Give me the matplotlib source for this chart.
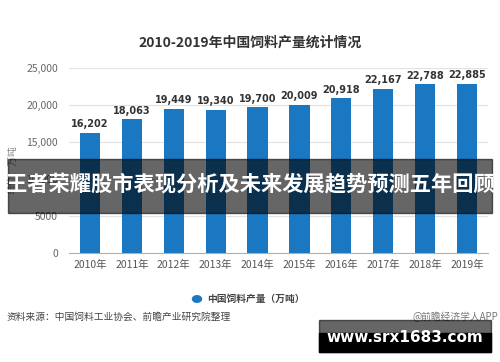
import numpy as np
import matplotlib.pyplot as plt
from matplotlib.patches import Rectangle, Circle

plt.rcParams['font.family'] = ['Noto Sans CJK SC', 'DejaVu Sans']

years = ['2010年', '2011年', '2012年', '2013年', '2014年',
         '2015年', '2016年', '2017年', '2018年', '2019年']
output = [16202, 18063, 19449, 19340, 19700, 20009, 20918, 22167, 22788, 22885]
yticks = [0, 5000, 10000, 15000, 20000, 25000]
ytick_labels = ['0', '5000', '10,000', '15,000', '20,000', '25,000']

W, H = 500, 362
fig = plt.figure(figsize=(W / 100, H / 100), dpi=100)
fig.patch.set_facecolor('white')

ax = fig.add_axes([69 / W, 1 - 253 / H, (488 - 69) / W, (253 - 68) / H])
x = np.arange(len(years))
ax.bar(x, output, width=0.48, color='#1a78c2', zorder=3)
for xi, v in zip(x, output):
    ax.text(xi, v + 500, f'{v:,}', ha='center', va='bottom', fontsize=7,
            fontweight='bold', color='#333333', family='DejaVu Sans')

ax.set_xlim(-0.5, len(years) - 0.5)
ax.set_ylim(0, 25000)
ax.set_yticks(yticks)
ax.set_yticklabels(ytick_labels, fontsize=7.5, color='#666666')
ax.set_xticks(x)
ax.set_xticklabels(years, fontsize=7.5, color='#555555')
ax.tick_params(axis='y', length=0, pad=8)
ax.tick_params(axis='x', length=0, pad=5)
ax.grid(axis='y', color='#e2e2e2', linewidth=0.8, zorder=0)
for s in ['top', 'right', 'left']:
    ax.spines[s].set_visible(False)
ax.spines['bottom'].set_color('#b0b0b0')
ax.set_facecolor('white')

fig.text(12 / W, 1 - 170 / H, '单位：万吨', rotation=90, fontsize=7,
         color='#888888', ha='center', va='center')

fig.text(250 / W, 1 - 43 / H, '2010-2019年中国饲料产量统计情况', fontsize=10,
         fontweight='bold', color='#333333', ha='center', va='center')

# legend
fig.patches.append(Circle((197 / W, 1 - 299 / H), 4.5 / W, color='#1a78c2',
                          transform=fig.transFigure, figure=fig))
fig.text(207 / W, 1 - 299 / H, '中国饲料产量（万吨）', fontsize=7,
         fontweight='bold', color='#444444', ha='left', va='center')

fig.text(7 / W, 1 - 317 / H, '资料来源：中国饲料工业协会、前瞻产业研究院整理',
         fontsize=7, color='#444444', ha='left', va='center')
fig.text(498 / W, 1 - 317 / H, '@前瞻经济学人APP', fontsize=7,
         color='#777777', ha='right', va='center')

# overlay banner
fig.patches.append(Rectangle((8 / W, 1 - 213 / H), 484 / W, 54 / H,
                             color='black', alpha=0.6, transform=fig.transFigure,
                             figure=fig, zorder=5))
fig.text(250 / W, 1 - 185 / H, '王者荣耀股市表现分析及未来发展趋势预测五年回顾',
         fontsize=15.3, fontweight='bold', color='white', ha='center',
         va='center', zorder=6)

# bottom site banner
fig.patches.append(Rectangle((319 / W, 1 - 352 / H), 172 / W, 32 / H,
                             color='black', alpha=0.6, transform=fig.transFigure,
                             figure=fig, zorder=5))
fig.patches.append(Rectangle((319 / W, 1 - 352 / H), 172 / W, 19 / H,
                             color='black', transform=fig.transFigure,
                             figure=fig, zorder=5))
fig.text(405 / W, 1 - 337 / H, 'www.srx1683.com', fontsize=11,
         fontweight='bold', color='white', ha='center', va='center',
         family='DejaVu Sans', zorder=6)

fig.savefig('out.png', dpi=100)
